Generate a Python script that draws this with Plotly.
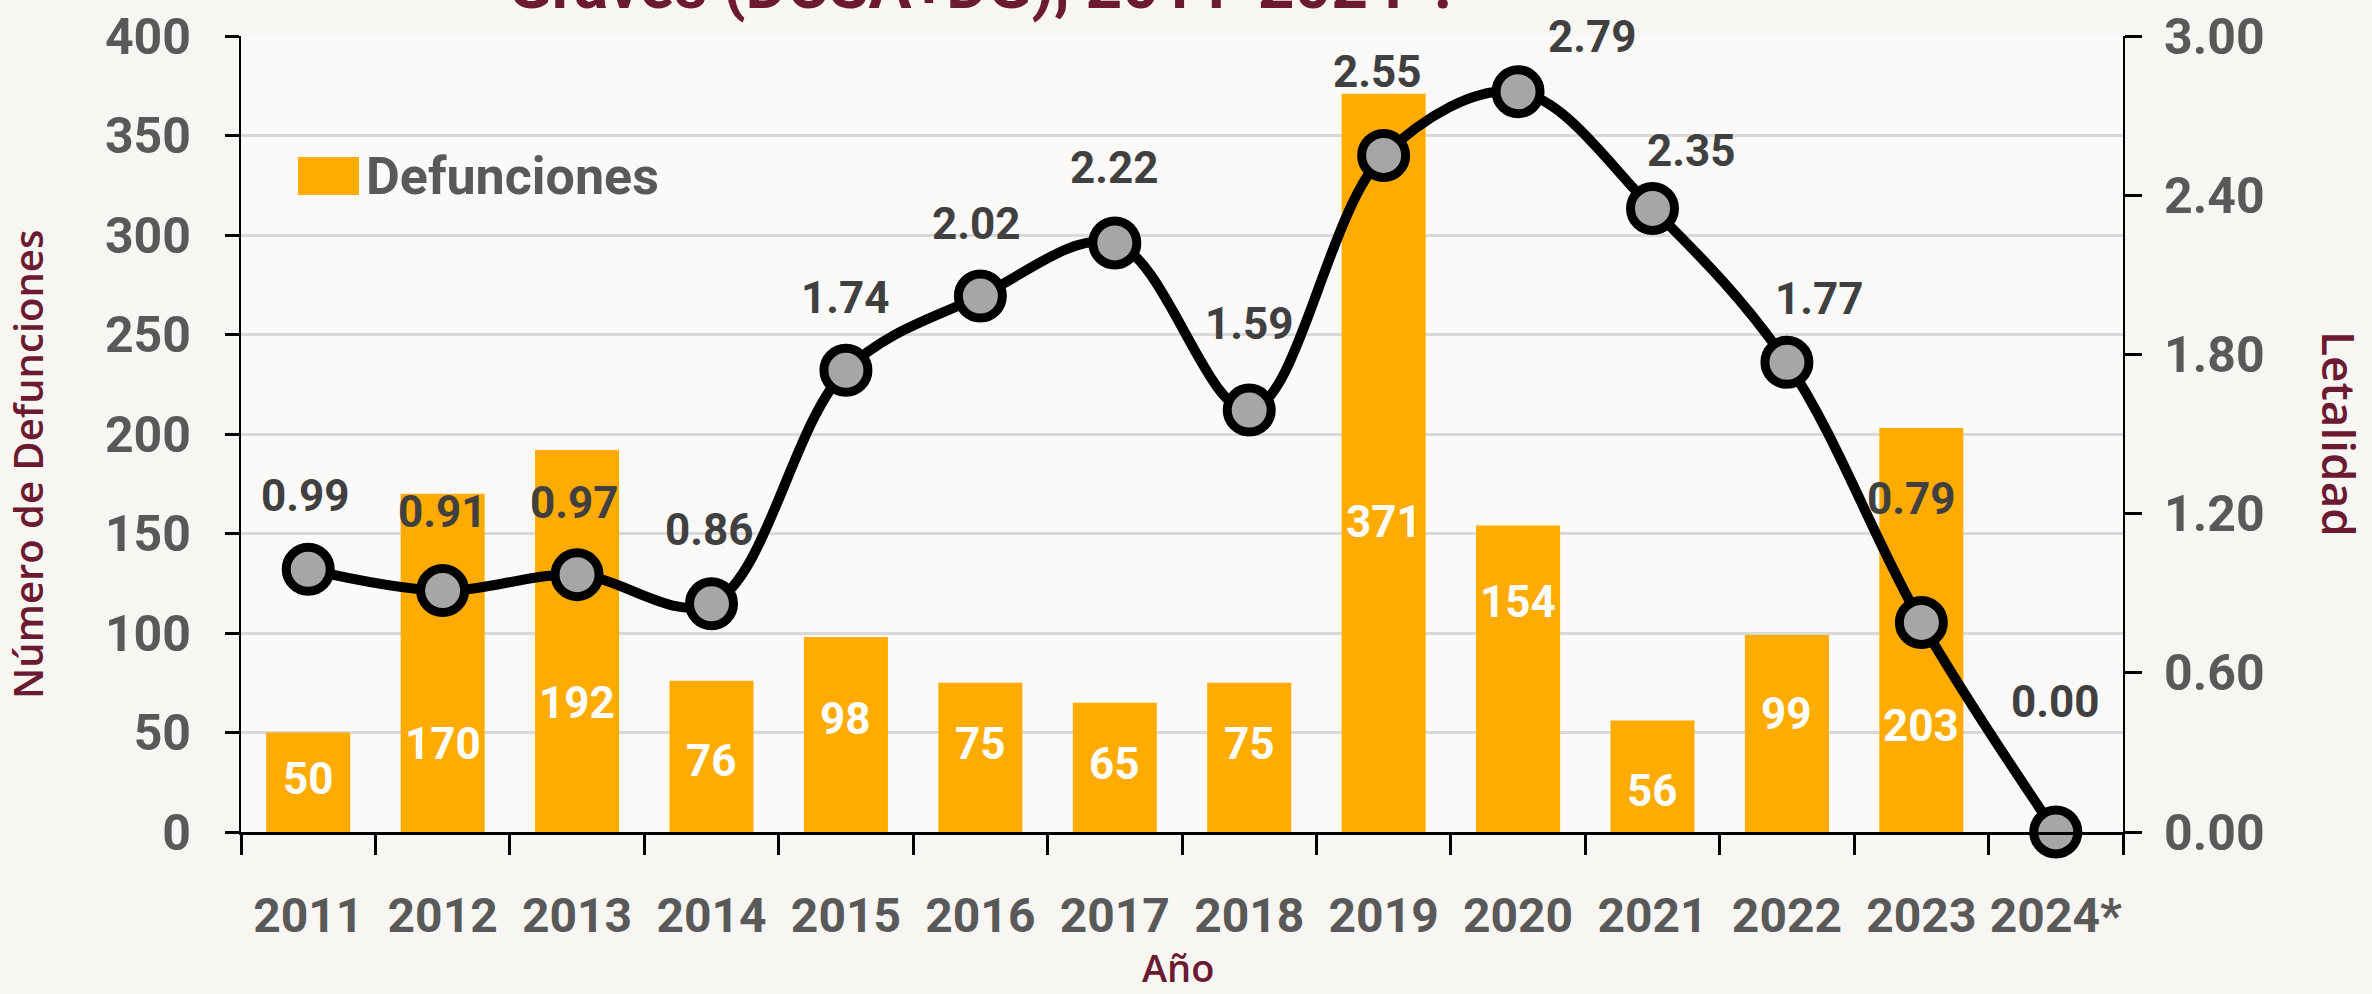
import plotly.graph_objects as go

# ---- data ----
years = ["2011", "2012", "2013", "2014", "2015", "2016", "2017", "2018",
         "2019", "2020", "2021", "2022", "2023", "2024*"]
defunciones = [50, 170, 192, 76, 98, 75, 65, 75, 371, 154, 56, 99, 203, None]
letalidad = [0.99, 0.91, 0.97, 0.86, 1.74, 2.02, 2.22, 1.59, 2.55, 2.79, 2.35, 1.77, 0.79, 0.00]

left_ticks = [0, 50, 100, 150, 200, 250, 300, 350, 400]
right_ticks = [0.0, 0.6, 1.2, 1.8, 2.4, 3.0]

title_text = "Graves (DCSA+DG), 2011-2024*."
legend_text = "Defunciones"
ytitle_left = "Número de Defunciones"
ytitle_right = "Letalidad"
xtitle = "Año"

# ---- label placement (pixel offsets, style only) ----
let_dx = [-3, 0, -3, -2, 0, -4, 0, 0, -6, 74, 39, 33, -10, 0]
let_dy = [73, 79, 72, 74, 72, 72, 75, 86, 83, 55, 57, 63, 123, 130]
def_rise = [53, 88, 129, 71, 113, 88, 68, 88, 310, 230, 41, 118, 106, 0]

BOLD = "Roboto, Liberation Sans, sans-serif"
SANS = "Open Sans, Noto Sans, sans-serif"
GRAY = "#595959"
DARK = "#404040"
MAROON = "#6B1A32"
ORANGE = "#FFAB00"

W, H = 2372, 994
ML, MR, MT, MB = 241, 249, 36, 162
PW, PH = W - ML - MR, H - MT - MB


def px_x(px):
    return (px - ML) / PW


def px_y(py):
    return (H - MB - py) / PH


fig = go.Figure()

fig.add_trace(go.Bar(
    x=years, y=defunciones, marker=dict(color=ORANGE, line=dict(width=0)),
    name=legend_text, showlegend=False, yaxis="y",
))

fig.add_trace(go.Scatter(
    x=years, y=letalidad, yaxis="y2", mode="lines+markers",
    line=dict(color="black", width=10, shape="spline", smoothing=1.0),
    marker=dict(size=44, color="#A6A6A6", line=dict(color="black", width=9)),
    cliponaxis=False, showlegend=False, name="Letalidad",
))

annotations = []
for i, v in enumerate(letalidad):
    annotations.append(dict(
        x=i, y=v, xref="x", yref="y2", text=f"{v:.2f}", showarrow=False,
        xshift=let_dx[i], yshift=let_dy[i],
        font=dict(family=BOLD, size=44, color=DARK, weight="bold"),
    ))
for i, v in enumerate(defunciones):
    if v is None:
        continue
    annotations.append(dict(
        x=i, y=0, xref="x", yref="y", text=str(v), showarrow=False,
        yshift=def_rise[i],
        font=dict(family=BOLD, size=44, color="white", weight="bold"),
    ))

# title (cut off at the top of the page as in the reference)
annotations.append(dict(
    x=px_x(980), y=px_y(-13), xref="paper", yref="paper", text=title_text,
    showarrow=False, xanchor="center", yanchor="middle",
    font=dict(family=BOLD, size=64, color=MAROON, weight="bold"),
))
# legend
annotations.append(dict(
    x=px_x(364), y=px_y(176), xref="paper", yref="paper", text=legend_text,
    showarrow=False, xanchor="left", yanchor="middle",
    font=dict(family=BOLD, size=52, color=GRAY, weight="bold"),
))
# axis titles
annotations.append(dict(
    x=px_x(27), y=px_y(465), xref="paper", yref="paper", text=ytitle_left,
    showarrow=False, textangle=-90, xanchor="center", yanchor="middle",
    font=dict(family=SANS, size=40, color=MAROON, weight=600),
))
annotations.append(dict(
    x=px_x(2340), y=px_y(434), xref="paper", yref="paper", text=ytitle_right,
    showarrow=False, textangle=90, xanchor="center", yanchor="middle",
    font=dict(family=SANS, size=46, color=MAROON, weight=600),
))
annotations.append(dict(
    x=px_x(1178), y=px_y(967), xref="paper", yref="paper", text=xtitle,
    showarrow=False, xanchor="center", yanchor="middle",
    font=dict(family=SANS, size=38, color=MAROON, weight=600),
))

shapes = [dict(
    type="rect", xref="paper", yref="paper",
    x0=px_x(298), x1=px_x(359), y0=px_y(195), y1=px_y(157),
    fillcolor=ORANGE, line=dict(width=0),
)]

fig.update_layout(
    width=W, height=H,
    margin=dict(l=ML, r=MR, t=MT, b=MB, pad=0),
    paper_bgcolor="#F8F6F2", plot_bgcolor="#FBFAF8",
    bargap=0.375,
    showlegend=False,
    annotations=annotations, shapes=shapes,
    xaxis=dict(
        type="category", range=[-0.5, 13.5], tickson="boundaries",
        ticks="outside", ticklen=20, tickwidth=3, tickcolor="black",
        showline=True, linecolor="black", linewidth=3, showgrid=False,
        tickfont=dict(family=BOLD, size=48, color=GRAY, weight="bold"),
        tickangle=0, automargin=False, ticklabelstandoff=39,
    ),
    yaxis=dict(
        range=[0, 400], tickvals=left_ticks,
        showgrid=True, gridcolor="#D9D9D9", gridwidth=3,
        showline=True, linecolor="black", linewidth=2,
        ticks="outside", ticklen=14, tickwidth=3, tickcolor="black",
        tickfont=dict(family=BOLD, size=50, color=GRAY, weight="bold"),
        ticklabelstandoff=24, zeroline=False, automargin=False,
    ),
    yaxis2=dict(
        overlaying="y", side="right", range=[0, 3], tickvals=right_ticks,
        tickformat=".2f", showgrid=False, zeroline=False,
        showline=True, linecolor="black", linewidth=2,
        ticks="outside", ticklen=17, tickwidth=3, tickcolor="black",
        tickfont=dict(family=BOLD, size=50, color=GRAY, weight="bold"),
        ticklabelstandoff=12, automargin=False,
    ),
)

fig.write_html(
    "out.html",
    config={"displayModeBar": False},
    post_script="document.body.style.margin='0';document.body.style.overflow='hidden';",
)
